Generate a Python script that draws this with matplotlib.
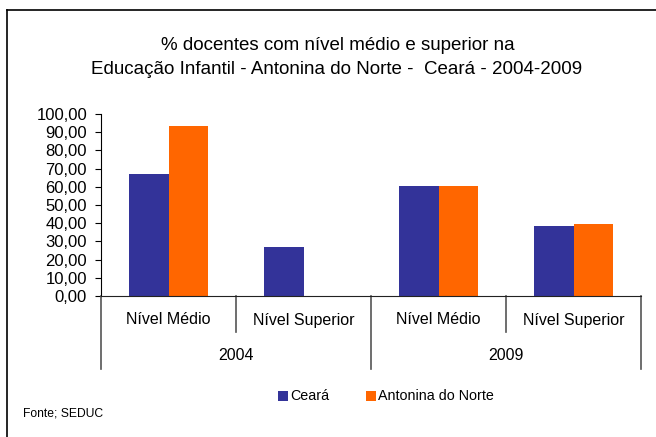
import numpy as np
import matplotlib
matplotlib.use("Agg")
import matplotlib.pyplot as plt
from matplotlib import transforms
from matplotlib.lines import Line2D
from matplotlib.patches import Rectangle

plt.rcParams["font.family"] = ["Liberation Sans", "DejaVu Sans"]

# dados
niveis = ["Nível Médio", "Nível Superior", "Nível Médio", "Nível Superior"]
anos = ["2004", "2009"]
ceara = [67.1, 27.0, 60.5, 38.2]
antonina = [93.6, 0.0, 60.5, 39.7]
series_nomes = ["Ceará", "Antonina do Norte"]
cores = ["#333399", "#FF6600"]
yticks = np.arange(0, 101, 10)

W, H = 656, 437
fig = plt.figure(figsize=(W / 100, H / 100), dpi=100)
ax = fig.add_axes([101 / W, 1 - 296 / H, (641 - 101) / W, (296 - 114) / H])

x = np.arange(len(niveis))
bw = 0.29
ax.bar(x - bw / 2, ceara, bw, color=cores[0], label=series_nomes[0])
ax.bar(x + bw / 2, antonina, bw, color=cores[1], label=series_nomes[1])

ax.set_xlim(-0.5, len(niveis) - 0.5)
ax.set_ylim(0, 100)
ax.set_yticks(yticks)
ax.set_yticklabels([f"{v:.2f}".replace(".", ",") for v in yticks], fontsize=12)
ax.tick_params(axis="y", length=4, width=0.8, pad=6, colors="black")
ax.set_xticks([])
for s in ["top", "right"]:
    ax.spines[s].set_visible(False)
ax.spines["left"].set_color("black")
ax.spines["bottom"].set_color("#222222")

# eixo de categorias em dois niveis
tr = transforms.blended_transform_factory(ax.transData, fig.transFigure)
y0 = 1 - 296 / H
for i, nome in enumerate(niveis):
    ax.text(i, 1 - 320 / H, nome, transform=tr, ha="center", va="center", fontsize=11.5)
for j, ano in enumerate(anos):
    ax.text(2 * j + 0.5, 1 - 356 / H, ano, transform=tr, ha="center", va="center", fontsize=11.5)
for xs in [0.5, 2.5]:
    ax.add_line(Line2D([xs, xs], [y0, 1 - 332 / H], transform=tr, color="#555555", lw=1.2, clip_on=False))
for xs in [-0.5, 1.5, 3.5]:
    ax.add_line(Line2D([xs, xs], [y0, 1 - 369 / H], transform=tr, color="#555555", lw=1.2, clip_on=False))

# titulo
fig.text(338 / W, 1 - 45 / H, "% docentes com nível médio e superior na", ha="center", va="center", fontsize=13.5)
fig.text(337 / W, 1 - 70 / H, "Educação Infantil - Antonina do Norte -  Ceará - 2004-2009",
         ha="center", va="center", fontsize=13.5)

# legenda manual
for xq, nome, cor in [(278, series_nomes[0], cores[0]), (366, series_nomes[1], cores[1])]:
    fig.add_artist(Rectangle((xq / W, 1 - 401 / H), 10 / W, 10 / H, transform=fig.transFigure,
                             color=cor, lw=0))
    fig.text((xq + 12) / W, 1 - 396 / H, nome, ha="left", va="center", fontsize=10.3)

fig.text(23 / W, 1 - 414 / H, "Fonte; SEDUC", ha="left", va="center", fontsize=8.7)

# moldura (so esquerda e topo aparecem)
fig.add_artist(Line2D([7 / W, 7 / W], [0, 1 - 10 / H], transform=fig.transFigure, color="black", lw=1.2))
fig.add_artist(Line2D([7 / W, 1], [1 - 10 / H, 1 - 10 / H], transform=fig.transFigure, color="black", lw=1.2))

fig.savefig("out.png", dpi=100)
